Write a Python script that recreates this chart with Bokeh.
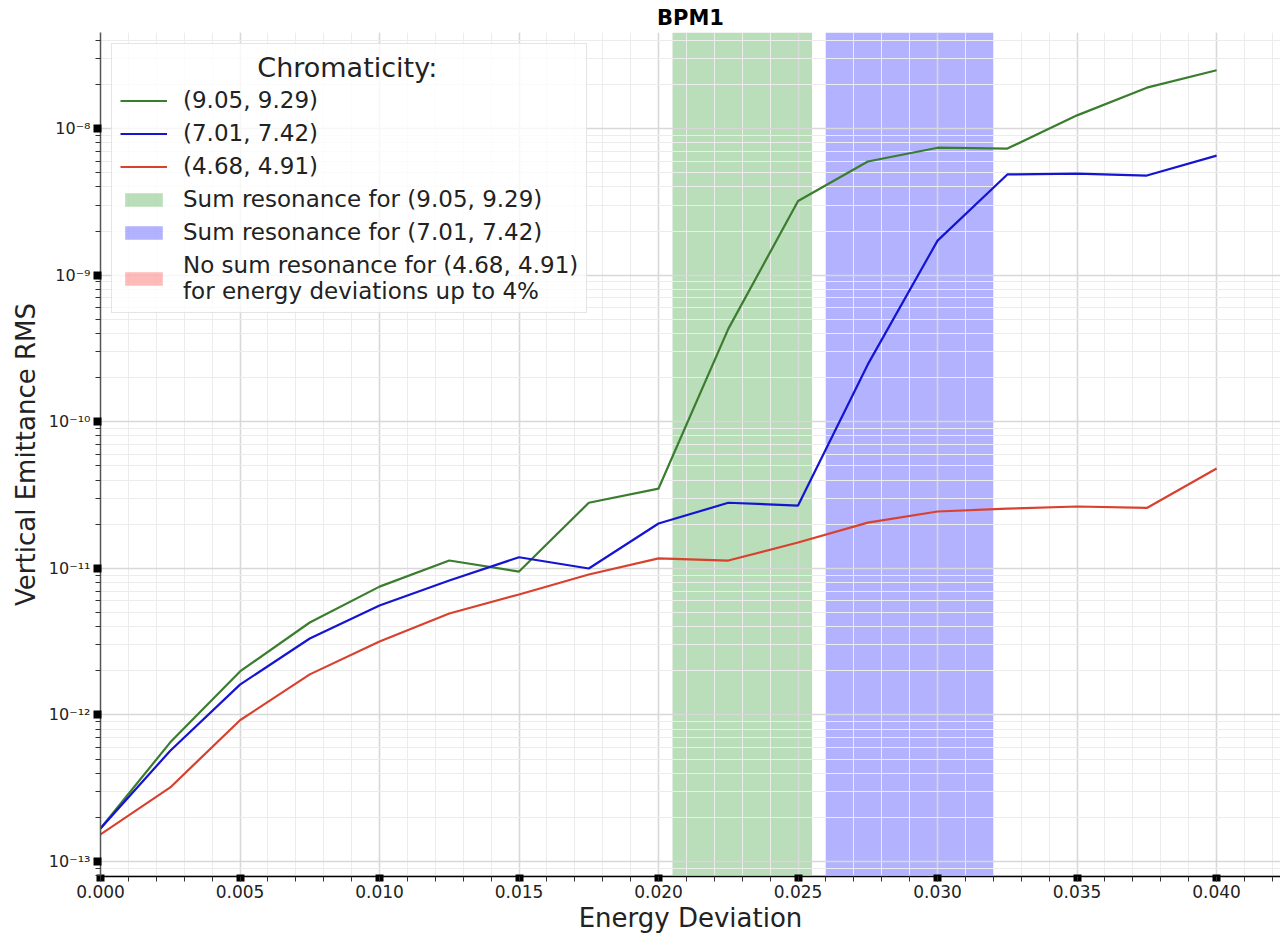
from bokeh.plotting import figure
from bokeh.models import (Range1d, FixedTicker, SingleIntervalTicker, NumeralTickFormatter,
                          CustomJSTickFormatter, Legend, LegendItem)
from bokeh.embed import file_html
from bokeh.resources import INLINE

# ---- data ----
energy = [0.0, 0.0025, 0.005, 0.0075, 0.01, 0.0125, 0.015, 0.0175, 0.02,
          0.0225, 0.025, 0.0275, 0.03, 0.0325, 0.035, 0.0375, 0.04]
emit_high = [1.68e-13, 6.5e-13, 1.98e-12, 4.27e-12, 7.5e-12, 1.13e-11, 9.5e-12, 2.8e-11, 3.5e-11,
             4.3e-10, 3.2e-9, 5.96e-9, 7.4e-9, 7.3e-9, 1.23e-8, 1.9e-8, 2.5e-8]
emit_mid = [1.68e-13, 5.7e-13, 1.61e-12, 3.32e-12, 5.57e-12, 8.26e-12, 1.19e-11, 9.97e-12, 2.02e-11,
            2.8e-11, 2.68e-11, 2.46e-10, 1.72e-9, 4.86e-9, 4.93e-9, 4.78e-9, 6.54e-9]
emit_low = [1.53e-13, 3.2e-13, 9.2e-13, 1.89e-12, 3.17e-12, 4.92e-12, 6.63e-12, 9.07e-12, 1.17e-11,
            1.13e-11, 1.5e-11, 2.05e-11, 2.44e-11, 2.55e-11, 2.64e-11, 2.58e-11, 4.8e-11]
series_labels = ["(9.05, 9.29)", "(7.01, 7.42)", "(4.68, 4.91)"]
# resonance bands (the third chromaticity has no band: zero width)
band_left = [0.0205, 0.026, 0.0]
band_right = [0.0255, 0.032, 0.0]
band_labels = ["Sum resonance for (9.05, 9.29)", "Sum resonance for (7.01, 7.42)",
               "No sum resonance for (4.68, 4.91)\nfor energy deviations up to 4%"]
legend_title = "Chromaticity:"
x_limits = (0.0, 0.04229)
y_limits = (7.9e-14, 4.52e-8)
y_major = [10.0 ** e for e in range(-13, -7)]
y_minor = [m * 10.0 ** e for e in range(-14, -7) for m in range(2, 10)]

FONT = "DejaVu Sans"
GREEN = "#3b7d2f"
BLUE = "#1414d2"
RED = "#d9412f"
BAND_COLORS = ["green", "blue", "red"]
BAND_ALPHAS = [0.27, 0.3, 0.27]

p = figure(width=1280, height=936, output_backend="svg", toolbar_location=None,
           y_axis_type="log", x_range=Range1d(*x_limits), y_range=Range1d(*y_limits),
           min_border_left=100, min_border_right=0, min_border_top=32, min_border_bottom=60,
           title="BPM1")
p.outline_line_color = None
p.background_fill_color = "white"
p.border_fill_color = "white"

p.title.align = "center"
p.title.text_font = FONT
p.title.text_font_size = "21px"
p.title.text_font_style = "bold"
p.title.text_color = "black"
p.title.offset = 0
p.title.standoff = 6

# bands (drawn in underlay so the grid shows over them)
band_renderers = []
for i in range(3):
    r = p.quad(left=[band_left[i]], right=[band_right[i]],
               bottom=[y_limits[0]], top=[y_limits[1]],
               fill_color=BAND_COLORS[i], fill_alpha=BAND_ALPHAS[i],
               line_color=None, level="underlay")
    band_renderers.append(r)

l1 = p.line(energy, emit_high, line_color=GREEN, line_width=2.2)
l2 = p.line(energy, emit_mid, line_color=BLUE, line_width=2.2)
l3 = p.line(energy, emit_low, line_color=RED, line_width=2.2)

# axes
p.xaxis.ticker = SingleIntervalTicker(interval=0.005, num_minor_ticks=5)
p.xaxis.formatter = NumeralTickFormatter(format="0.000")
p.yaxis.ticker = FixedTicker(ticks=y_major, minor_ticks=y_minor)
p.yaxis.formatter = CustomJSTickFormatter(code="""
const e = Math.round(Math.log10(tick));
const sup = {'-':'\u207b','0':'\u2070','1':'\u00b9','2':'\u00b2','3':'\u00b3','4':'\u2074',
             '5':'\u2075','6':'\u2076','7':'\u2077','8':'\u2078','9':'\u2079'};
return '10' + String(e).split('').map(c => sup[c]).join('');
""")

for ax in (p.xaxis[0], p.yaxis[0]):
    ax.major_label_text_font = FONT
    ax.major_label_text_color = "#222222"
    ax.axis_label_text_font = FONT
    ax.axis_label_text_font_size = "26px"
    ax.axis_label_text_font_style = "normal"
    ax.axis_label_text_color = "#222222"
    ax.major_tick_line_width = 8
    ax.major_tick_line_color = "black"
    ax.minor_tick_line_color = "#333333"
    ax.minor_tick_line_width = 1

p.xaxis.major_label_text_font_size = "17px"
p.yaxis.major_label_text_font_size = "16px"
p.xaxis.axis_label = "Energy Deviation"
p.yaxis.axis_label = "Vertical Emittance RMS"
p.xaxis.axis_line_color = "black"
p.xaxis.axis_line_width = 1.5
p.yaxis.axis_line_color = "#555555"
p.yaxis.axis_line_width = 1.5
p.xaxis.major_tick_in = 2
p.xaxis.major_tick_out = 5
p.xaxis.minor_tick_in = 0
p.xaxis.minor_tick_out = 5
p.xaxis.major_label_standoff = 3
p.xaxis.axis_label_standoff = 2
p.yaxis.major_tick_in = 1
p.yaxis.major_tick_out = 7
p.yaxis.minor_tick_in = 0
p.yaxis.minor_tick_out = 5
p.yaxis.major_label_standoff = 3
p.yaxis.axis_label_standoff = 5

# grid
for g in (p.xgrid[0], p.ygrid[0]):
    g.grid_line_color = "#d8d8d8"
    g.grid_line_width = 1.6
    g.minor_grid_line_color = "#ececec"
    g.minor_grid_line_width = 1

legend = Legend(items=[
    LegendItem(label=series_labels[0], renderers=[l1]),
    LegendItem(label=series_labels[1], renderers=[l2]),
    LegendItem(label=series_labels[2], renderers=[l3]),
    LegendItem(label=band_labels[0], renderers=[band_renderers[0]]),
    LegendItem(label=band_labels[1], renderers=[band_renderers[1]]),
    LegendItem(label=band_labels[2], renderers=[band_renderers[2]]),
], location="top_left", margin=11)
# non-breaking spaces centre the title over the legend box
legend.title = "\u00a0" * 16 + legend_title
legend.title_text_font = FONT
legend.title_text_font_size = "27px"
legend.title_text_font_style = "normal"
legend.title_text_color = "#222222"
legend.title_standoff = 4
legend.label_text_font = FONT
legend.label_text_font_size = "23px"
legend.label_text_color = "#222222"
legend.glyph_width = 47
legend.glyph_height = 17
legend.label_height = 23
legend.spacing = 7
legend.padding = 8
legend.label_standoff = 16
legend.border_line_color = "#cccccc"
legend.border_line_width = 1.2
legend.background_fill_color = "white"
legend.background_fill_alpha = 0.8
p.add_layout(legend)

open("out.html", "w").write(file_html(p, INLINE))
